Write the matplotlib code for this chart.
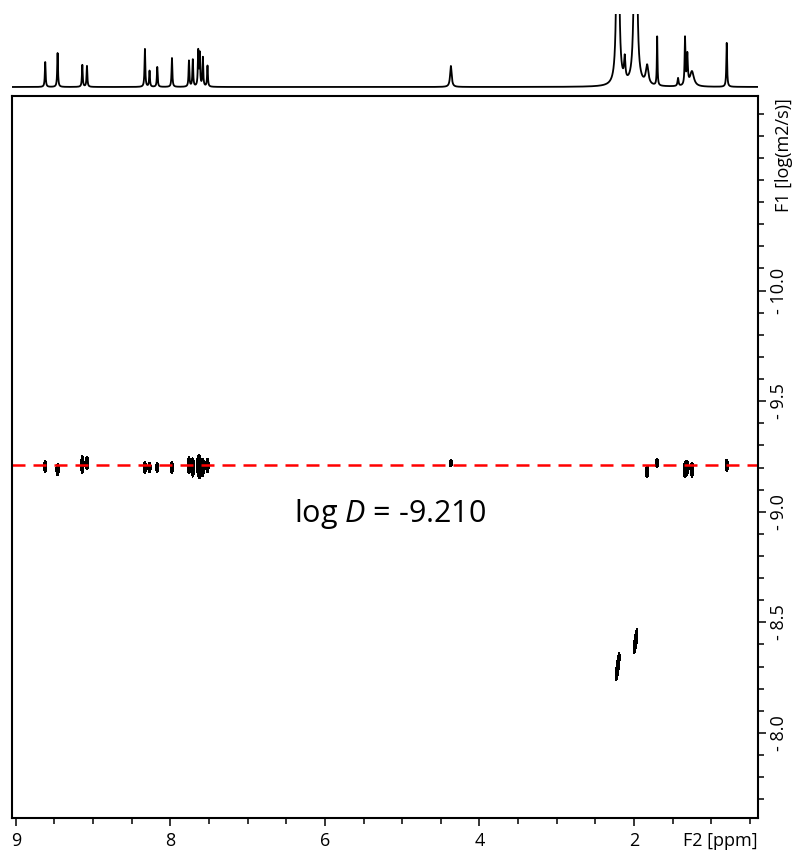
import numpy as np
import matplotlib
matplotlib.use("Agg")
import matplotlib.pyplot as plt

plt.rcParams['font.family'] = ['Open Sans', 'DejaVu Sans']
plt.rcParams['mathtext.fontset'] = 'custom'
plt.rcParams['mathtext.rm'] = 'Open Sans'
plt.rcParams['mathtext.it'] = 'Open Sans:italic'

# ---------------- data ----------------
# 1D projection (F2): peak positions (ppm), heights (arb.), half widths (ppm)
spec_ppm = [9.62, 9.46, 9.14, 9.08, 8.33, 8.27, 8.17, 7.98, 7.76, 7.71, 7.64, 7.62,
            7.58, 7.52, 4.37, 2.21, 2.12, 1.98, 1.83, 1.70, 1.43, 1.34, 1.31, 1.25, 0.80]
spec_height = [25, 34, 22, 21, 38, 16, 20, 29, 26, 27, 35, 32,
               29, 21, 21, 400, 22, 500, 19, 49, 8, 47, 30, 15, 44]
spec_hwhm = [0.006, 0.006, 0.006, 0.006, 0.006, 0.006, 0.006, 0.006, 0.006, 0.006, 0.006, 0.006,
             0.006, 0.006, 0.012, 0.012, 0.010, 0.012, 0.020, 0.005, 0.008, 0.006, 0.008, 0.030, 0.006]

# DOSY cross peaks: F2 position (ppm), log D, half extent in log D, tilt (ppm per logD)
dosy_ppm = [9.62, 9.46, 9.14, 9.08, 8.33, 8.27, 8.17, 7.98, 7.76, 7.71, 7.64, 7.62,
            7.58, 7.52, 4.37, 1.83, 1.70, 1.34, 1.31, 1.25, 0.80, 2.21, 1.98]
dosy_logd = [-9.204, -9.19, -9.213, -9.22, -9.20, -9.20, -9.20, -9.20, -9.21, -9.20, -9.21, -9.20,
             -9.20, -9.21, -9.22, -9.18, -9.22, -9.19, -9.20, -9.19, -9.21, -8.30, -8.414]
dosy_half = [0.027, 0.027, 0.040, 0.030, 0.025, 0.022, 0.022, 0.025, 0.038, 0.043, 0.043, 0.045,
             0.040, 0.032, 0.016, 0.027, 0.020, 0.036, 0.030, 0.034, 0.027, 0.063, 0.057]
dosy_tilt = [0, 0, 0, 0, 0, 0, 0, 0, 0, 0, 0, 0,
             0, 0, 0, 0, 0, 0, 0, 0, 0, 0.34, 0.34]

log_d_line = -9.210
annotation = r'log $\mathit{D}$ = -9.210'

x_major = [10, 8, 6, 4, 2]
x_major_labels = ["9", "8", "6", "4", "2"]
y_major = [-10.0, -9.5, -9.0, -8.5, -8.0]
y_major_labels = ["- 10.0", "- 9.5", "- 9.0", "- 8.5", "- 8.0"]

xlim = (10.05, 0.395)
ylim = (-7.615, -10.88)

# ---------------- figure ----------------
W, H = 793, 852
fig = plt.figure(figsize=(W / 100, H / 100), dpi=100)

ax = fig.add_axes([12 / W, (H - 818) / H, 746 / W, 722 / H])
axt = fig.add_axes([12 / W, (H - 92) / H, 746 / W, 78 / H])

# 1D spectrum
xs = np.linspace(xlim[0], xlim[1], 12000)
spec = np.zeros_like(xs)
for p, h, w in zip(spec_ppm, spec_height, spec_hwhm):
    spec += h / (1 + ((xs - p) / w) ** 2)
axt.plot(xs, spec, color='black', lw=1.3)
axt.set_xlim(*xlim)
axt.set_ylim(-5, 73)
axt.axis('off')

# 2D contour
gx = np.linspace(xlim[0], xlim[1], 2600)
gy = np.linspace(ylim[1], ylim[0], 1000)
GX, GY = np.meshgrid(gx, gy)
Z = np.zeros_like(GX)
sx = 0.015
for p, d, hh, t in zip(dosy_ppm, dosy_logd, dosy_half, dosy_tilt):
    sy = hh / 1.45
    cx = p + t * (GY - d)
    Z += np.exp(-0.5 * ((GX - cx) / sx) ** 2 - 0.5 * ((GY - d) / sy) ** 2)
ax.contourf(GX, GY, Z, levels=[0.35, 1e6], colors='black')

ax.axhline(log_d_line, color='#ff0000', lw=1.8, dashes=(5.2, 3.2))
ax.text(5.15, -8.99, annotation, fontsize=22, ha='center', va='center')

ax.set_xlim(*xlim)
ax.set_ylim(*ylim)

ax.set_xticks(x_major)
ax.set_xticklabels(x_major_labels)
ax.set_xticks(np.arange(10, 0.4, -0.5), minor=True)
ax.set_yticks(y_major)
ax.set_yticklabels(y_major_labels)
ax.set_yticks(np.arange(-10.8, -7.65, 0.1), minor=True)

ax.yaxis.tick_right()
ax.tick_params(axis='both', which='major', length=6, width=1.1, labelsize=13, direction='out')
ax.tick_params(axis='both', which='minor', length=4, width=1.1, direction='out')
ax.tick_params(axis='x', pad=4)
ax.tick_params(axis='y', which='both', left=False, right=True, pad=3)
for lab in ax.get_yticklabels():
    lab.set_rotation(90)
    lab.set_va('center')
for s in ax.spines.values():
    s.set_linewidth(1.5)

ax.text(1.0, -0.0385, "F2 [ppm]", transform=ax.transAxes, ha='right', va='baseline', fontsize=13)
ax.text(1.023, 0.918, "F1 [log(m2/s)]", transform=ax.transAxes, ha='left', va='center',
        rotation=90, fontsize=13)

fig.savefig("out.png", dpi=100)
